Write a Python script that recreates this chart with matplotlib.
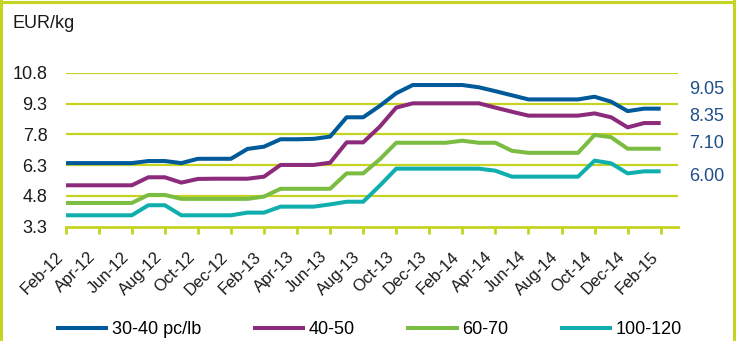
import numpy as np
import matplotlib
matplotlib.use("Agg")
import matplotlib.pyplot as plt
from matplotlib.lines import Line2D

plt.rcParams['font.family'] = ['Liberation Sans', 'DejaVu Sans']

# donnees mensuelles, Feb-12 -> Feb-15
mois = ['Feb-12', 'Apr-12', 'Jun-12', 'Aug-12', 'Oct-12', 'Dec-12',
        'Feb-13', 'Apr-13', 'Jun-13', 'Aug-13', 'Oct-13', 'Dec-13',
        'Feb-14', 'Apr-14', 'Jun-14', 'Aug-14', 'Oct-14', 'Dec-14', 'Feb-15']

taille_30_40 = [6.40, 6.40, 6.40, 6.40, 6.40, 6.50, 6.50, 6.40, 6.61, 6.61,
                6.61, 7.09, 7.20, 7.56, 7.56, 7.58, 7.69, 8.63, 8.63, 9.18,
                9.80, 10.20, 10.20, 10.20, 10.20, 10.09, 9.90, 9.70, 9.50, 9.50,
                9.50, 9.50, 9.63, 9.39, 8.93, 9.05, 9.05]
taille_40_50 = [5.32, 5.32, 5.32, 5.32, 5.32, 5.71, 5.71, 5.45, 5.63, 5.64,
                5.64, 5.64, 5.74, 6.31, 6.31, 6.31, 6.42, 7.41, 7.41, 8.17,
                9.10, 9.31, 9.31, 9.31, 9.31, 9.31, 9.10, 8.90, 8.71, 8.71,
                8.71, 8.71, 8.82, 8.63, 8.14, 8.35, 8.35]
taille_60_70 = [4.46, 4.46, 4.46, 4.46, 4.46, 4.85, 4.85, 4.66, 4.66, 4.66,
                4.66, 4.66, 4.77, 5.15, 5.15, 5.15, 5.15, 5.90, 5.90, 6.58,
                7.39, 7.39, 7.39, 7.39, 7.49, 7.39, 7.39, 7.00, 6.90, 6.90,
                6.90, 6.90, 7.77, 7.66, 7.10, 7.10, 7.10]
taille_100_120 = [3.86, 3.86, 3.86, 3.86, 3.86, 4.35, 4.35, 3.86, 3.86, 3.86,
                  3.86, 3.99, 3.99, 4.28, 4.28, 4.28, 4.39, 4.52, 4.52, 5.30,
                  6.13, 6.13, 6.13, 6.13, 6.13, 6.13, 6.03, 5.74, 5.74, 5.74,
                  5.74, 5.74, 6.52, 6.39, 5.90, 6.00, 6.00]

noms = ['30-40 pc/lb', '40-50', '60-70', '100-120']
couleurs = ['#005a9a', '#8c2b7b', '#7bbd42', '#10afad']
etiquettes_fin = ['9.05', '8.35', '7.10', '6.00']
pos_etiquettes = [9.99, 8.66, 7.36, 5.74]

graduations_y = [3.3, 4.8, 6.3, 7.8, 9.3, 10.8]
citron = '#c5d420'

fig = plt.figure(figsize=(7.37, 3.41), dpi=100)
ax = fig.add_axes([0.0891, 0.3349, 0.8309, 0.4519])

x = np.arange(len(taille_30_40))
series = [taille_30_40, taille_40_50, taille_60_70, taille_100_120]
for serie, nom, c in zip(series, noms, couleurs):
    ax.plot(x, serie, color=c, lw=2.9, label=nom, solid_capstyle='butt')

ax.set_xlim(0, 37.05)
ax.set_ylim(3.3, 10.8)

ax.set_yticks(graduations_y)
ax.set_yticklabels([f"{v:.1f}" for v in graduations_y], fontsize=13, color='#1a1a1a')
ax.tick_params(axis='y', length=0, pad=13)
for v in graduations_y[1:]:
    ax.axhline(v, color=citron, lw=1.6, zorder=0)

ax.set_xticks(np.arange(0, 37, 2))
ax.set_xticklabels(mois, rotation=45, ha='right', va='top', fontsize=12, color='#1a1a1a')
ax.tick_params(axis='x', length=5, width=2, color=citron, pad=11, direction='out')

for s in ['left', 'right', 'top']:
    ax.spines[s].set_visible(False)
ax.spines['bottom'].set_color(citron)
ax.spines['bottom'].set_linewidth(2)

for txt, yv in zip(etiquettes_fin, pos_etiquettes):
    ax.text(1.018, yv, txt, transform=ax.get_yaxis_transform(), fontsize=13,
            color='#1d4e89', va='center', ha='left')

fig.text(13 / 737, 1 - 24 / 341, 'EUR/kg', fontsize=13, color='#1a1a1a', va='center', ha='left')

fig.legend(loc='center left', bbox_to_anchor=(56 / 737, 1 - 330 / 341), ncol=4,
           frameon=False, fontsize=13, handlelength=2.9, handletextpad=0.2,
           columnspacing=2.85, borderpad=0, borderaxespad=0)

# cadre (sans bas)
fig.add_artist(Line2D([1.5 / 737, 1.5 / 737], [0, 1], color=citron, lw=2.2))
fig.add_artist(Line2D([0, 734 / 737], [1 - 1.5 / 341, 1 - 1.5 / 341], color=citron, lw=2.2))
fig.add_artist(Line2D([734 / 737, 734 / 737], [0, 1], color=citron, lw=2.2))

fig.savefig('out.png', dpi=100)
